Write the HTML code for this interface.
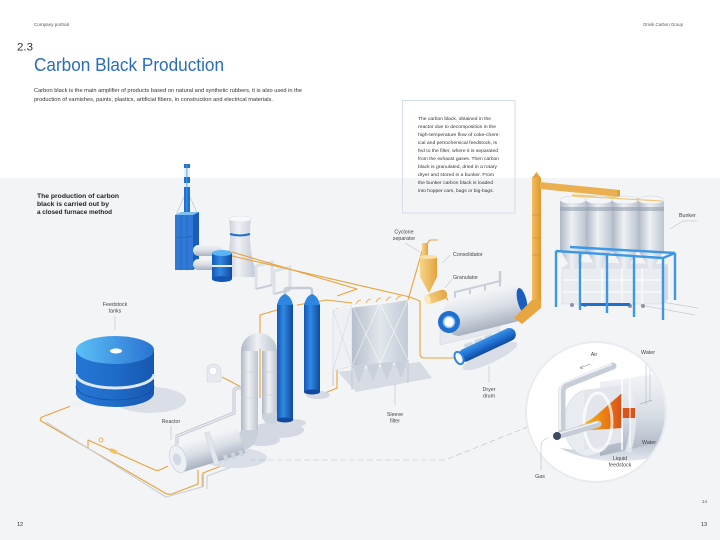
<!DOCTYPE html>
<html><head><meta charset="utf-8">
<style>
html,body{margin:0;padding:0;background:#fff}
svg{display:block}
text{font-family:"Liberation Sans",Arial,sans-serif}
</style></head>
<body>
<svg width="720" height="540" viewBox="0 0 720 540" xmlns="http://www.w3.org/2000/svg">
<defs>
  <linearGradient id="mH" x1="0" y1="0" x2="1" y2="0">
    <stop offset="0" stop-color="#aeb7c4"/><stop offset="0.45" stop-color="#eef0f4"/><stop offset="1" stop-color="#bcc4d0"/>
  </linearGradient>
  <linearGradient id="mV" x1="0" y1="0" x2="0" y2="1">
    <stop offset="0" stop-color="#f4f5f8"/><stop offset="0.5" stop-color="#d9dee6"/><stop offset="1" stop-color="#a9b2c0"/>
  </linearGradient>
  <linearGradient id="bH" x1="0" y1="0" x2="1" y2="0">
    <stop offset="0" stop-color="#1457b8"/><stop offset="0.4" stop-color="#3189e2"/><stop offset="1" stop-color="#0f4a9e"/>
  </linearGradient>
  <linearGradient id="bV" x1="0" y1="0" x2="0" y2="1">
    <stop offset="0" stop-color="#3a92e8"/><stop offset="0.5" stop-color="#1f6fd0"/><stop offset="1" stop-color="#0f4a9e"/>
  </linearGradient>
  <linearGradient id="tankTop" x1="0" y1="0" x2="1" y2="0">
    <stop offset="0" stop-color="#5cc0f7"/><stop offset="1" stop-color="#2a72d2"/>
  </linearGradient>
  <linearGradient id="tankBody" x1="0" y1="0" x2="1" y2="0">
    <stop offset="0" stop-color="#2576d4"/><stop offset="0.5" stop-color="#1f6cc8"/><stop offset="1" stop-color="#1656b0"/>
  </linearGradient>
  <linearGradient id="yel" x1="0" y1="0" x2="1" y2="0">
    <stop offset="0" stop-color="#f7d58a"/><stop offset="1" stop-color="#e5a23e"/>
  </linearGradient>
  <linearGradient id="org" x1="0" y1="0" x2="1" y2="0">
    <stop offset="0" stop-color="#f4bd60"/><stop offset="1" stop-color="#de982e"/>
  </linearGradient>
  <linearGradient id="flame" x1="0" y1="0" x2="1" y2="0">
    <stop offset="0" stop-color="#ffc800"/><stop offset="0.5" stop-color="#f39a10"/><stop offset="1" stop-color="#d8501a"/>
  </linearGradient>
  <linearGradient id="filt" x1="0" y1="0" x2="1" y2="0">
    <stop offset="0" stop-color="#b5bfcd"/><stop offset="0.5" stop-color="#e2e6ec"/><stop offset="1" stop-color="#c3cbd6"/>
  </linearGradient>
  <linearGradient id="shd" x1="0" y1="0" x2="0" y2="1">
    <stop offset="0" stop-color="#b8c1ce"/><stop offset="1" stop-color="#e4e8ee"/>
  </linearGradient>
  <clipPath id="cc"><circle cx="596" cy="412" r="69"/></clipPath>
</defs>

<rect width="720" height="540" fill="#fff"/>
<rect y="178" width="720" height="362" fill="#f3f4f6"/>

<!-- header text -->
<text x="34" y="26" font-size="4.5" fill="#555" textLength="35" lengthAdjust="spacingAndGlyphs">Company portrait</text>
<text x="643" y="26" font-size="4.5" fill="#555" textLength="40" lengthAdjust="spacingAndGlyphs">Omsk Carbon Group</text>
<text x="17" y="50.5" font-size="11" fill="#333" textLength="16" lengthAdjust="spacingAndGlyphs">2.3</text>
<text x="34" y="71" font-size="18" fill="#2a6db8" textLength="190" lengthAdjust="spacingAndGlyphs">Carbon Black Production</text>
<text x="34" y="92" font-size="5.3" fill="#333" textLength="268" lengthAdjust="spacingAndGlyphs">Carbon black is the main amplifier of products based on natural and synthetic rubbers, it is also used in the</text>
<text x="34" y="101" font-size="5.3" fill="#333" textLength="239" lengthAdjust="spacingAndGlyphs">production of varnishes, paints, plastics, artificial fibers, in construction and electrical materials.</text>

<!-- info box -->
<rect x="402.5" y="100.5" width="112.5" height="112.5" fill="none" stroke="#d5dcea" stroke-width="1"/>
<g font-size="4.6" fill="#333">
<text x="418" y="120" textLength="73" lengthAdjust="spacingAndGlyphs">The carbon black, obtained in the</text>
<text x="418" y="128" textLength="78" lengthAdjust="spacingAndGlyphs">reactor due to decomposition in the</text>
<text x="418" y="136" textLength="82" lengthAdjust="spacingAndGlyphs">high-temperature flow of coke-chem-</text>
<text x="418" y="144" textLength="79" lengthAdjust="spacingAndGlyphs">ical and petrochemical feedstock, is</text>
<text x="418" y="152" textLength="80" lengthAdjust="spacingAndGlyphs">fed to the filter, where it is separated</text>
<text x="418" y="160" textLength="81" lengthAdjust="spacingAndGlyphs">from the exhaust gases. Then carbon</text>
<text x="418" y="168" textLength="79" lengthAdjust="spacingAndGlyphs">black is granulated, dried in a rotary</text>
<text x="418" y="176" textLength="76" lengthAdjust="spacingAndGlyphs">dryer and stored in a bunker. From</text>
<text x="418" y="184" textLength="75" lengthAdjust="spacingAndGlyphs">the bunker carbon black is loaded</text>
<text x="418" y="192" textLength="76" lengthAdjust="spacingAndGlyphs">into hopper cars, bags or big-bags.</text>
</g>

<!-- intro bold -->
<g font-size="6.4" font-weight="bold" fill="#222">
<text x="37" y="198" textLength="82" lengthAdjust="spacingAndGlyphs">The production of carbon</text>
<text x="37" y="206" textLength="72" lengthAdjust="spacingAndGlyphs">black is carried out by</text>
<text x="37" y="214" textLength="75" lengthAdjust="spacingAndGlyphs">a closed furnace method</text>
</g>

<!-- ===== power plant ===== -->
<line x1="187" y1="190" x2="176" y2="215" stroke="#8a95a5" stroke-width="0.4"/>
<line x1="187" y1="190" x2="198" y2="215" stroke="#8a95a5" stroke-width="0.4"/>
<rect x="184" y="164" width="6" height="52" fill="#1f6fd0"/>
<rect x="184" y="168" width="6" height="9" fill="#e8eef6"/>
<rect x="184" y="183" width="6" height="4" fill="#e8eef6"/>
<rect x="186" y="164" width="1.5" height="52" fill="#4a9ae8" opacity="0.6"/>
<polygon points="175,215 181,212 199,212 193,215" fill="#7fbff5"/>
<rect x="175" y="215" width="18" height="55" fill="#2f7ad6"/>
<polygon points="193,215 199,212 199,266 193,270" fill="#1a5cb8"/>
<line x1="181" y1="215" x2="181" y2="270" stroke="#1a5cb8" stroke-width="0.5"/>
<line x1="187" y1="215" x2="187" y2="270" stroke="#1a5cb8" stroke-width="0.5"/>
<line x1="175" y1="238" x2="199" y2="236" stroke="#1a5cb8" stroke-width="0.6"/>
<!-- cooling tower -->
<path d="M229,219 Q233,250 222,277 L258,277 Q247,250 251,219 Z" fill="url(#mH)"/>
<ellipse cx="240" cy="219" rx="11" ry="3" fill="#f7f8fa" stroke="#d5dae2" stroke-width="0.5"/>
<path d="M230,234 Q240,237 250,234" stroke="#1f6fd0" stroke-width="2" fill="none"/>
<!-- white cylinders -->
<rect x="193" y="245" width="30" height="11" rx="5.5" fill="url(#mV)"/>
<rect x="193" y="259" width="30" height="11" rx="5.5" fill="url(#mV)"/>
<!-- blue drum -->
<rect x="212" y="253" width="20" height="26" fill="url(#bH)"/>
<rect x="212" y="265" width="20" height="2" fill="#e5edf7"/>
<ellipse cx="222" cy="279" rx="10" ry="3" fill="#1456b4"/>
<ellipse cx="222" cy="253" rx="10" ry="3" fill="#5ab4f5"/>
<!-- frames -->
<path d="M256,289 L256,266 L272,262 L272,285" fill="none" stroke="#dde1e8" stroke-width="3"/>
<path d="M274,294 L274,271 L290,267 L290,290" fill="none" stroke="#dde1e8" stroke-width="3"/>
<path d="M256,289 L272,285 M274,294 L290,290" stroke="#c9cfd8" stroke-width="2"/>

<!-- ===== orange pipes ===== -->
<g fill="none" stroke="#e9a23b" stroke-width="1.1" stroke-linejoin="round">
  <path d="M232,252 L357,289 L337,296"/>
  <path d="M232,256 L410,297 L420,301 L420,354 Q420,358 425,358 L457,358"/>
  <path d="M408,300 L423,248 L430,240 L438,240"/>
  <path d="M446,297 Q450,302 449,312"/>
  <path d="M260,398 L260,315 L277,310"/>
  <path d="M277,383 L288,380 L288,427 L276,424"/>
  <path d="M313,398 L337,388 L337,308"/>
  <path d="M297,305 L327,300 L352,303"/>
  <path d="M222,377 L243,388"/>
  <path d="M76,404 L42,417 Q39,419 41,421 L165,493 Q168,495 172,494 L198,484 L198,470"/>
  <path d="M88,448 L88,440 L155,470 Q158,471 162,469 L168,466"/>
  <path d="M203,487 L203,473 L237,460 L237,455"/>
</g>
<g fill="none" stroke="#c8ced8" stroke-width="1.1">
  <path d="M46,422 L166,497 L202,487 L202,474"/>
  <path d="M207,489 L207,476 L240,464"/>
</g>
<circle cx="101" cy="440" r="2" fill="none" stroke="#e9a23b" stroke-width="0.8"/>
<rect x="110" y="449" width="7" height="4" fill="#f1c35e" transform="rotate(24 113 451)"/>

<!-- ===== feedstock tank ===== -->
<ellipse cx="150" cy="400" rx="36" ry="13" fill="#dadee7"/>
<path d="M76,350 L76,393 A39,14 0 0 0 154,393 L154,350 Z" fill="url(#tankBody)"/>
<path d="M76,374 A39,14 0 0 0 154,374" fill="none" stroke="#dfe8f5" stroke-width="3"/>
<path d="M76,386 A39,14 0 0 0 154,386" fill="none" stroke="#1450a0" stroke-width="0.8"/>
<ellipse cx="115" cy="350" rx="39" ry="14" fill="url(#tankTop)"/>
<ellipse cx="116" cy="351" rx="6" ry="2.5" fill="#fff"/>
<rect x="70" y="401" width="14" height="6" fill="#eef1f5"/>

<!-- ===== reactor ===== -->
<ellipse cx="278" cy="430" rx="26" ry="8" fill="#d3d8e2"/>
<ellipse cx="235" cy="458" rx="32" ry="10" fill="#d9dee7"/>
<ellipse cx="262" cy="440" rx="18" ry="6" fill="#d3d8e2"/>
<path d="M177,452 L177,436 L234,413 L234,392 Q234,388 238,388 L247,388" fill="none" stroke="#c3cad5" stroke-width="3.2" stroke-linejoin="round"/>
<path d="M177,452 L177,436 L234,413 L234,392 Q234,388 238,388 L247,388" fill="none" stroke="#eef1f5" stroke-width="1"/>
<rect x="241" y="350" width="17" height="85" fill="url(#mH)"/>
<path d="M241,430 L258,430 Q258,446 244,450 L232,448 Z" fill="#c9d0da"/>
<rect x="262" y="350" width="15" height="68" fill="url(#mH)"/>
<path d="M241,351 A18,18 0 0 1 277,351 L262,351 A2,2 0 0 0 258,351 Z" fill="url(#mH)"/>
<path d="M262,414 Q262,424 272,424 L283,422 L283,412 L277,412 Z" fill="#cdd3dc"/>
<line x1="241" y1="372" x2="258" y2="372" stroke="#c3cad5" stroke-width="0.6"/>
<line x1="262" y1="372" x2="277" y2="372" stroke="#c3cad5" stroke-width="0.6"/>
<line x1="241" y1="398" x2="258" y2="398" stroke="#c3cad5" stroke-width="0.6"/>
<line x1="262" y1="395" x2="277" y2="395" stroke="#c3cad5" stroke-width="0.6"/>
<g transform="translate(178,459) rotate(-17)">
  <rect x="0" y="-14" width="66" height="28" fill="url(#mV)"/>
  <rect x="33" y="-17" width="5" height="34" fill="#e3e7ed" stroke="#c6cdd7" stroke-width="0.4"/>
  <rect x="44" y="10" width="4" height="6" fill="#cfd5de"/>
  <rect x="52" y="10" width="4" height="6" fill="#cfd5de"/>
  <rect x="60" y="10" width="4" height="6" fill="#cfd5de"/>
  <ellipse cx="0" cy="0" rx="8" ry="14" fill="#eceff3" stroke="#c5ccd6" stroke-width="0.6"/>
  <ellipse cx="-1" cy="0" rx="4" ry="6" fill="#d3d9e1"/>
</g>
<!-- fan -->
<path d="M207,382 L207,369 Q207,364 213,364 Q221,364 221,371 L221,382 Z" fill="#e6e9ee" stroke="#cdd3dc" stroke-width="0.5"/>
<circle cx="213" cy="371" r="4" fill="#fff" stroke="#c9d0da" stroke-width="0.6"/>

<!-- ===== columns ===== -->
<ellipse cx="292" cy="423" rx="14" ry="4" fill="#d4d9e2"/>
<ellipse cx="318" cy="395" rx="12" ry="4" fill="#d4d9e2"/>
<path d="M285,296 L285,290 Q285,288 288,288 L309,288 Q312,288 312,291 L312,296" stroke="#c5ccd6" stroke-width="2.5" fill="none"/>
<rect x="277" y="304" width="16" height="116" fill="url(#bH)"/>
<path d="M277,305 Q279,296 285,294 Q291,296 293,305 Z" fill="#2f86e0"/>
<ellipse cx="285" cy="420" rx="8" ry="2.5" fill="#0f4a9e"/>
<rect x="304" y="304" width="16" height="88" fill="url(#bH)"/>
<path d="M304,305 Q306,296 312,294 Q318,296 320,305 Z" fill="#2f86e0"/>
<ellipse cx="312" cy="392" rx="8" ry="2.5" fill="#0f4a9e"/>

<!-- ===== sleeve filter ===== -->
<polygon points="338,372 420,362 432,378 356,392" fill="#d6dbe4"/>
<line x1="333" y1="371" x2="333" y2="386" stroke="#c2c9d3" stroke-width="1"/>
<line x1="352" y1="366" x2="352" y2="390" stroke="#c2c9d3" stroke-width="1"/>
<line x1="408" y1="360" x2="408" y2="383" stroke="#c2c9d3" stroke-width="1"/>
<polygon points="333,310 352,305 352,366 333,371" fill="#eef0f4" stroke="#d0d5dd" stroke-width="0.5"/>
<polygon points="352,305 408,300 408,360 352,366" fill="url(#filt)"/>
<polygon points="333,310 352,305 408,300 390,303" fill="#f6f7f9"/>
<g stroke="#fff" stroke-width="0.6" opacity="0.8">
  <line x1="352" y1="305" x2="380" y2="363"/><line x1="380" y1="303" x2="352" y2="366"/>
  <line x1="380" y1="303" x2="408" y2="360"/><line x1="408" y1="300" x2="380" y2="363"/>
</g>
<g stroke="#cdd3dc" stroke-width="0.5">
  <line x1="333" y1="310" x2="352" y2="366"/><line x1="352" y1="305" x2="333" y2="371"/>
</g>
<g fill="#c9d0da">
  <polygon points="352,366 366,364.5 359,383"/><polygon points="366,364.5 380,363 373,381"/>
  <polygon points="380,363 394,361.5 387,380"/><polygon points="394,361.5 408,360 401,378"/>
</g>
<g fill="none" stroke="#e9a23b" stroke-width="0.8">
  <path d="M356,304 q2,-4 5,-4 M366,303 q2,-4 5,-4 M376,302 q2,-4 5,-4 M386,301 q2,-4 5,-4 M396,300 q2,-4 5,-4"/>
</g>

<!-- ===== cyclone / consolidator / granulator ===== -->
<rect x="422" y="243" width="6" height="13" fill="url(#yel)"/>
<rect x="420" y="257" width="17" height="20" fill="url(#yel)"/>
<ellipse cx="428.5" cy="257" rx="8.5" ry="2" fill="#f9e0a8"/>
<polygon points="420,277 437,277 429,293" fill="url(#yel)"/>
<g transform="translate(426,300) rotate(-18)">
  <rect x="0" y="-5" width="22" height="10" rx="5" fill="url(#yel)"/>
  <ellipse cx="1.5" cy="0" rx="3" ry="5" fill="#fbe7b8"/>
</g>

<!-- ===== dryer ===== -->
<path d="M455,298 L455,292 L500,281 L500,288 M470,295 L470,289 M485,291 L485,285" fill="none" stroke="#c8ced8" stroke-width="2"/>
<path d="M500,283 L500,271" stroke="#c8ced8" stroke-width="2.5"/>
<polygon points="440,330 500,316 500,331 440,345" fill="#e6e9ee" stroke="#d2d7df" stroke-width="0.5"/>
<g transform="translate(449,322) rotate(-14)">
  <rect x="-2" y="-22" width="78" height="38" rx="10" fill="url(#mV)"/>
  <ellipse cx="76" cy="-3" rx="4.5" ry="13" fill="#1a5fc0"/>
  <circle cx="0" cy="0" r="11" fill="#1f6fd0"/>
  <circle cx="0" cy="0" r="5.5" fill="#fff" stroke="#8ec5f5" stroke-width="1.5"/>
</g>
<g fill="#d3d9e2">
  <rect x="464" y="343" width="9" height="4" rx="2" transform="rotate(-20 468 345)"/>
  <rect x="474" y="339" width="9" height="4" rx="2" transform="rotate(-20 478 341)"/>
  <rect x="484" y="335" width="9" height="4" rx="2" transform="rotate(-20 488 337)"/>
</g>
<ellipse cx="490" cy="356" rx="30" ry="7" fill="#d8dde6" transform="rotate(-25 490 356)"/>
<g transform="translate(459,358) rotate(-25)">
  <rect x="0" y="-6.5" width="62" height="13" rx="6.5" fill="url(#bV)"/>
  <ellipse cx="0" cy="0" rx="4" ry="6.5" fill="#fff" stroke="#2f86e0" stroke-width="2"/>
</g>

<!-- ===== elevator ===== -->
<polygon points="532,178 536.5,172 541,178" fill="#e9a23b"/>
<rect x="532" y="178" width="9" height="125" fill="url(#org)"/>
<g stroke="#c98a2a" stroke-width="0.5"><line x1="532" y1="215" x2="541" y2="215"/><line x1="532" y1="238" x2="541" y2="238"/><line x1="532" y1="255" x2="541" y2="255"/></g>
<polygon points="532,300 541,300 541,308 522,324 514,318" fill="#e8a640"/>
<polygon points="540,182 620,190 620,197 540,189" fill="#eab050"/>
<rect x="617" y="190" width="3" height="10" fill="#e0a040"/>
<line x1="572" y1="195" x2="662" y2="200" stroke="#f0c878" stroke-width="1.5"/>

<!-- ===== bunker ===== -->
<g stroke="#c5cbd4" stroke-width="0.7"><line x1="640" y1="305" x2="695" y2="315"/><line x1="650" y1="300" x2="698" y2="308"/></g>
<polygon points="562,268 570,262 668,264 662,268" fill="#dfe3e9"/>
<rect x="562" y="268" width="100" height="36" fill="#e9ecf0" stroke="#d0d5dd" stroke-width="0.5"/>
<polygon points="662,268 668,264 668,300 662,304" fill="#d5dae2"/>
<g stroke="#fff" stroke-width="1"><line x1="562" y1="280" x2="662" y2="280"/><line x1="562" y1="292" x2="662" y2="292"/>
<line x1="582" y1="268" x2="582" y2="304"/><line x1="602" y1="268" x2="602" y2="304"/><line x1="622" y1="268" x2="622" y2="304"/><line x1="642" y1="268" x2="642" y2="304"/></g>
<g fill="#8a95a5"><circle cx="572" cy="305" r="2"/><circle cx="585" cy="305" r="2"/><circle cx="630" cy="306" r="2"/><circle cx="643" cy="306" r="2"/></g>
<rect x="580" y="303" width="50" height="3" fill="#1f6fd0"/>
<g>
  <path d="M560,250 L573,272 L586,250 Z" fill="url(#mH)"/>
  <path d="M586,250 L599,272 L612,250 Z" fill="url(#mH)"/>
  <path d="M612,250 L625,272 L638,250 Z" fill="url(#mH)"/>
  <path d="M638,250 L651,272 L664,250 Z" fill="url(#mH)"/>
  <rect x="560" y="200" width="26" height="52" fill="url(#mH)"/>
  <rect x="586" y="200" width="26" height="52" fill="url(#mH)"/>
  <rect x="612" y="200" width="26" height="52" fill="url(#mH)"/>
  <rect x="638" y="200" width="26" height="52" fill="url(#mH)"/>
  <g fill="#8f9bac" opacity="0.55">
    <rect x="560" y="207" width="26" height="4"/><rect x="586" y="207" width="26" height="4"/>
    <rect x="612" y="207" width="26" height="4"/><rect x="638" y="207" width="26" height="4"/>
  </g>
  <g fill="#f3f5f8" stroke="#c9d0da" stroke-width="0.5">
    <ellipse cx="573" cy="200" rx="13" ry="4"/><ellipse cx="599" cy="200" rx="13" ry="4"/>
    <ellipse cx="625" cy="200" rx="13" ry="4"/><ellipse cx="651" cy="200" rx="13" ry="4"/>
  </g>
</g>
<line x1="572" y1="196" x2="662" y2="201" stroke="#f0c878" stroke-width="1.2"/>
<g stroke="#3c98e6" stroke-width="2.4" fill="none">
  <polyline points="570,247 675,253"/>
  <polyline points="556,251 663,258 675,253"/>
  <line x1="556" y1="251" x2="556" y2="307"/>
  <line x1="580" y1="253" x2="580" y2="310"/>
  <line x1="607" y1="254" x2="607" y2="313"/>
  <line x1="634" y1="256" x2="634" y2="317"/>
  <line x1="663" y1="258" x2="663" y2="320"/>
  <line x1="675" y1="253" x2="675" y2="300"/>
</g>

<!-- ===== dashed connector ===== -->
<path d="M250,460 L445,460 L540,422" fill="none" stroke="#b8bfc9" stroke-width="0.6" stroke-dasharray="6,3"/>

<!-- ===== detail circle ===== -->
<circle cx="596" cy="412" r="71" fill="#e8ebf0"/>
<circle cx="596" cy="412" r="69" fill="#fff"/>
<g clip-path="url(#cc)">
  <path d="M560,448 Q600,470 670,455 L670,440 L575,450 Z" fill="url(#shd)"/>
  <path d="M600,382 L670,372 L670,440 L600,456 Z" fill="url(#mV)"/>
  <path d="M624,383 Q640,410 628,452" fill="none" stroke="#e9ecf1" stroke-width="6" opacity="0.8"/>
  <ellipse cx="588" cy="423" rx="24" ry="33" fill="#e8ebf0" stroke="#d0d6df" stroke-width="0.6"/>
  <polygon points="584,390 623,385 623,442 584,450" fill="#e2e6ec"/>
  <path d="M568,432 L592,419 L622,393 L622,428 L592,430 Z" fill="url(#flame)"/>
  <rect x="621" y="408" width="14" height="10" fill="#d9541a"/>
  <ellipse cx="598" cy="422" rx="14" ry="29" fill="none" stroke="#fff" stroke-width="3" opacity="0.7"/>
  <line x1="622" y1="372" x2="622" y2="450" stroke="#fff" stroke-width="1.5"/>
  <line x1="630" y1="372" x2="630" y2="448" stroke="#fff" stroke-width="1"/>
  <line x1="646" y1="356" x2="646" y2="405" stroke="#9aa3b0" stroke-width="0.4"/>
  <line x1="650" y1="356" x2="650" y2="402" stroke="#9aa3b0" stroke-width="0.4"/>
  <path d="M562,432 L562,392 Q562,386 568,384 L613,366" fill="none" stroke="#c6cdd7" stroke-width="7" stroke-linecap="round" stroke-linejoin="round"/>
  <path d="M560,430 L560,392 Q560,384 566,382 L612,364" fill="none" stroke="#eef1f5" stroke-width="2"/>
  <path d="M557,436 L598,424" stroke="#c6cdd7" stroke-width="7" stroke-linecap="round"/>
  <path d="M557,434 L598,422" stroke="#eef1f5" stroke-width="1.5"/>
  <circle cx="557" cy="436" r="4" fill="#3a4a63"/>
  <path d="M580,368 L590,364 M580,368 l2.5,-2.5 M580,368 l3.2,0.8" stroke="#777" stroke-width="0.5" fill="none"/>
  <path d="M621,398 l0,-4 M619.8,395.5 l1.2,-1.5 l1.2,1.5" stroke="#777" stroke-width="0.4" fill="none"/>
  <path d="M621,424 l0,4" stroke="#777" stroke-width="0.4"/>
  <path d="M640,404 L652,400" stroke="#888" stroke-width="0.4"/>
</g>

<!-- ===== labels ===== -->
<g stroke="#9aa2ad" stroke-width="0.4" fill="none">
  <line x1="115" y1="316" x2="115" y2="330"/>
  <line x1="171" y1="426" x2="171" y2="440"/>
  <line x1="405" y1="243" x2="420" y2="252"/>
  <line x1="450" y1="255" x2="442" y2="263"/>
  <line x1="452" y1="279" x2="445" y2="288"/>
  <polyline points="697,221 683,221 670,229"/>
  <line x1="395" y1="384" x2="395" y2="405"/>
  <line x1="489" y1="366" x2="489" y2="383"/>
  <path d="M541,470 L541,445 Q541,440 548,438"/>
</g>
<g font-size="5.3" fill="#444" text-anchor="middle">
  <text x="115" y="306">Feedstock</text>
  <text x="115" y="312.5">tanks</text>
  <text x="171" y="423">Reactor</text>
  <text x="404" y="233.5">Cyclone</text>
  <text x="404" y="240">separator</text>
  <text x="395" y="416">Sleeve</text>
  <text x="395" y="422.5">filter</text>
  <text x="489" y="391">Dryer</text>
  <text x="489" y="397.5">drum</text>
  <text x="594" y="356">Air</text>
  <text x="648" y="354">Water</text>
  <text x="649" y="444">Water</text>
  <text x="620" y="460">Liquid</text>
  <text x="620" y="466.5">feedstock</text>
  <text x="540" y="478">Gas</text>
</g>
<g font-size="5.3" fill="#444">
  <text x="453" y="256">Consolidator</text>
  <text x="453" y="279">Granulator</text>
  <text x="679" y="217">Bunker</text>
</g>
<text x="17" y="526" font-size="5.5" fill="#333">12</text>
<text x="701" y="526" font-size="5.5" fill="#333">13</text>
<text x="702" y="503" font-size="4.5" fill="#555">14</text>
</svg>
</body></html>
